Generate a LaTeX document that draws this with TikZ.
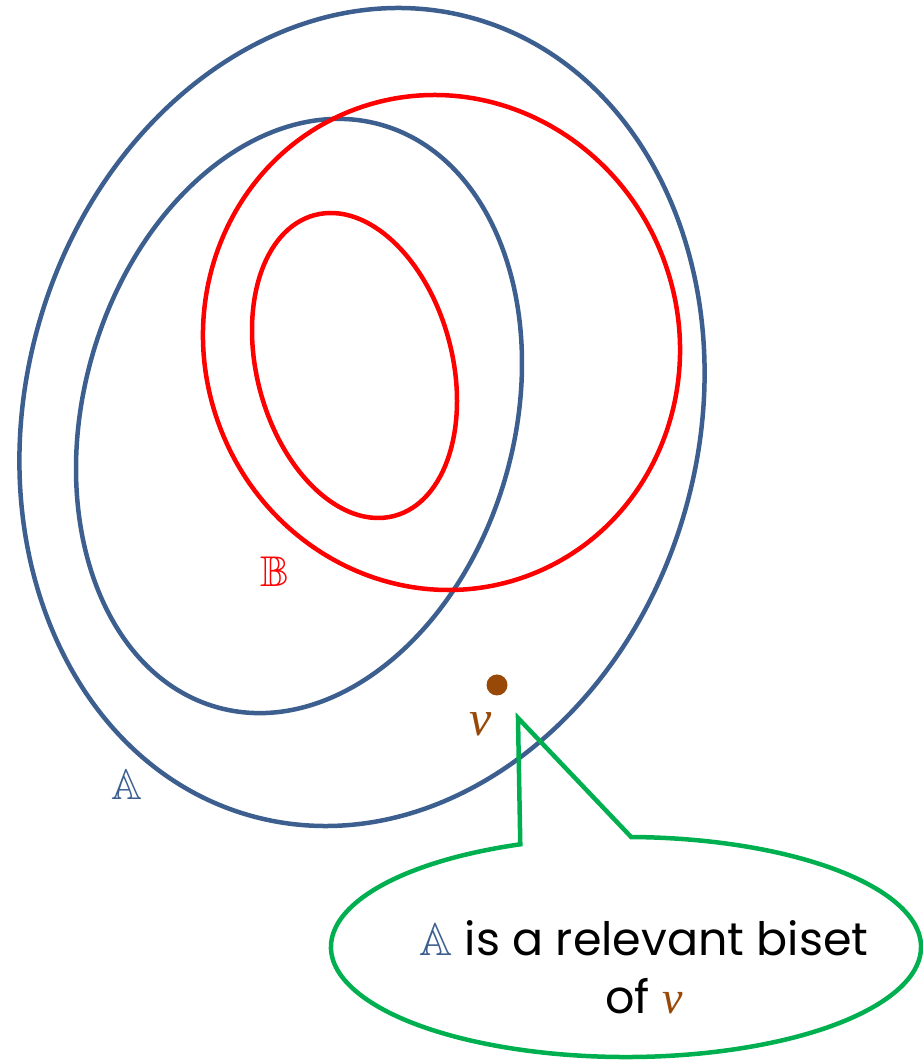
\documentclass[tikz,border=0pt]{standalone}
\usepackage{amssymb}
\usepackage{fontspec}
\setmainfont{Poppins}
\newfontfamily\vfont{Liberation Serif}
\definecolor{setblue}{HTML}{3C5F8F}
\definecolor{setred}{HTML}{FF0000}
\definecolor{callgreen}{HTML}{00B050}
\definecolor{vbrown}{HTML}{984807}
\newcommand{\vlet}{{\vfont\itshape\color{vbrown}v}}
\tikzset{
  blueset/.style={draw=setblue, line width=4.5pt},
  redset/.style={draw=setred, line width=4.5pt},
  callout/.style={draw=callgreen, line width=4.5pt, line join=miter},
  biglabel/.style={inner sep=0pt, font=\fontsize{43}{43}\selectfont},
}
\begin{document}
\begin{tikzpicture}[x=1pt,y=1pt]
\useasboundingbox (0,0) rectangle (923,1061);
% blue sets
\draw[blueset, rotate around={-15.5:(362,644)}] (362,644) ellipse [x radius=336.4, y radius=414];
\draw[blueset, rotate around={-15.7:(299,645)}] (299,645) ellipse [x radius=215.4, y radius=302.6];
% red sets
\draw[redset, rotate around={19.4:(441.5,718.5)}] (441.5,718.5) ellipse [x radius=237.2, y radius=248.7];
\draw[redset, rotate around={14.8:(354.5,695.5)}] (354.5,695.5) ellipse [x radius=97.7, y radius=155.6];
% labels
\node[biglabel, text=setred] (B) at (275,489) {$\mathbb{B}$};
\node[biglabel, text=setblue] (A) at (127,276) {$\mathbb{A}$};
\fill[vbrown] (497,376) circle [radius=10.5];
\node[inner sep=0pt, font=\fontsize{50}{50}\selectfont] (v) at (481,337) {\vlet};
% callout
\coordinate (tip) at (518,343);
\coordinate (cstart) at ({626+295*cos(111)},{114+110*sin(111)});
\draw[callout] (tip) -- (cstart) arc[start angle=111, end angle=449, x radius=295, y radius=110] -- cycle;
\node[inner sep=0pt, align=center, font=\fontsize{46}{58}\selectfont] (txt) at (644,94)
  {{\color{setblue}$\mathbb{A}$} is a relevant biset\\of \vlet};
\end{tikzpicture}
\end{document}
